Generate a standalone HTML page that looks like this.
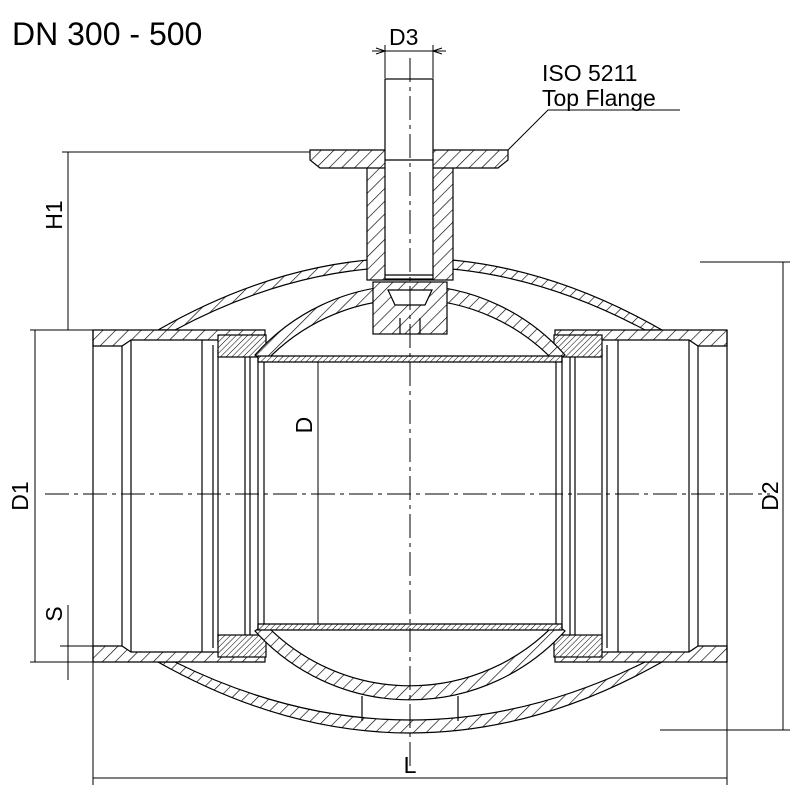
<!DOCTYPE html>
<html><head><style>body{margin:0;background:#fff}svg{display:block}</style></head><body>
<svg width="800" height="800" viewBox="0 0 800 800" xmlns="http://www.w3.org/2000/svg" font-family="Liberation Sans, sans-serif">
<defs>
<pattern id="h" patternUnits="userSpaceOnUse" width="9" height="9" patternTransform="rotate(45)">
<rect width="9" height="9" fill="#fff"/><line x1="0" y1="0" x2="0" y2="9" stroke="#000" stroke-width="1.3"/></pattern>
<pattern id="h2" patternUnits="userSpaceOnUse" width="4" height="4" patternTransform="rotate(45)">
<rect width="4" height="4" fill="#fff"/><line x1="0" y1="0" x2="0" y2="4" stroke="#000" stroke-width="1"/></pattern>
</defs>
<g fill="none" stroke="#000" stroke-width="1.2">
<text x="12" y="45" font-size="32" fill="#000" stroke="none">DN 300 - 500</text>

<!-- outer shells -->
<path d="M158,330 Q410,186 662,330 L645,330 Q410,204 175,330 Z" fill="url(#h)"/>
<path d="M158,662 Q410,804 662,662 L645,662 Q410,778 175,662 Z" fill="url(#h)"/>
<path d="M362,696 L362,721 M458,696 L458,721"/>

<!-- pipes left -->
<path d="M93,330 L265,330 L265,340 L131,340 L122,346 L93,346 Z" fill="url(#h)"/>
<path d="M93,662 L265,662 L265,652 L131,652 L122,646 L93,646 Z" fill="url(#h)"/>
<path d="M93,330 L93,662 M122,346 L122,646 M131,340 L131,652 M202,340 L202,652 M213,345 L213,648 M218,350 L218,645"/>
<!-- pipes right -->
<path d="M727,330 L555,330 L555,340 L689,340 L698,346 L727,346 Z" fill="url(#h)"/>
<path d="M727,662 L555,662 L555,652 L689,652 L698,646 L727,646 Z" fill="url(#h)"/>
<path d="M727,330 L727,662 M698,346 L698,646 M689,340 L689,652 M618,340 L618,652 M607,345 L607,648 M602,350 L602,645"/>

<!-- seats -->
<g fill="url(#h2)">
<rect x="218" y="335" width="48" height="22"/><rect x="218" y="635" width="48" height="22"/>
<rect x="554" y="335" width="48" height="22"/><rect x="554" y="635" width="48" height="22"/>
</g>
<path d="M245,357 L245,635 M250,357 L250,635 M575,357 L575,635 M570,357 L570,635"/>

<!-- ball -->
<path d="M255,355 A207,207 0 0 1 565,355 L555,362 A199,199 0 0 0 265,362 Z" fill="url(#h)"/>
<path d="M255,631 A209,209 0 0 0 565,631 L555,624 A201,201 0 0 1 265,624 Z" fill="url(#h)"/>
<path d="M258,356 L562,356 L562,362 L258,362 Z" fill="url(#h2)"/>
<path d="M258,630 L562,630 L562,624 L258,624 Z" fill="url(#h2)"/>
<path d="M258,356 L258,630 M264,362 L264,624 M562,356 L562,630 M556,362 L556,624"/>

<!-- trunnion/bonnet -->
<rect x="373" y="282" width="74" height="52" fill="url(#h)"/>
<path d="M388,290 L432,290 L425,305 L395,305 Z" fill="#fff"/>
<path d="M400,318 L400,334 M420,318 L420,334"/>
<rect x="367" y="165" width="86" height="115" fill="url(#h)"/>
<path d="M310,150 L508,150 L508,160 L498,168 L320,168 L310,160 Z" fill="url(#h)"/>
<rect x="385" y="79" width="48" height="200" fill="#fff"/>
<path d="M385,160 L433,160 M385,275 L433,275"/>

<!-- dimensions -->
<g stroke-width="1">
<path d="M385,78 L385,45 M433,78 L433,45"/>
<path d="M372,51 L446,51"/>
<path d="M385,51 L376,48 M385,51 L376,54 M433,51 L442,48 M433,51 L442,54"/>
<path d="M508,150 L548,110 L680,110"/>
<path d="M310,152 L62,152 M93,330 L62,330 M68,152 L68,330"/>
<path d="M93,330 L30,330 M93,662 L30,662 M35,330 L35,662"/>
<path d="M68,605 L68,680 M93,646 L60,646"/>
<path d="M700,262 L790,262 M660,730 L790,730 M783,262 L783,730"/>
<path d="M93,662 L93,785 M727,662 L727,785 M93,778 L727,778"/>
<path d="M318,362 L318,624"/>
<path d="M45,494 L770,494" stroke-dasharray="24,5,4,5"/>
<path d="M410,58 L410,770" stroke-dasharray="24,5,4,5"/>
</g>
<g fill="#000" stroke="none" font-size="23">
<text x="389" y="45">D3</text>
<text x="542" y="81">ISO 5211</text>
<text x="542" y="106">Top Flange</text>
<text x="410" y="773" text-anchor="middle">L</text>
<text transform="translate(62,215) rotate(-90)" text-anchor="middle">H1</text>
<text transform="translate(28,496) rotate(-90)" text-anchor="middle">D1</text>
<text transform="translate(778,496) rotate(-90)" text-anchor="middle">D2</text>
<text transform="translate(312,425) rotate(-90)" text-anchor="middle">D</text>
<text transform="translate(62,614) rotate(-90)" text-anchor="middle">S</text>
</g>
</g>
</svg>
</body></html>
